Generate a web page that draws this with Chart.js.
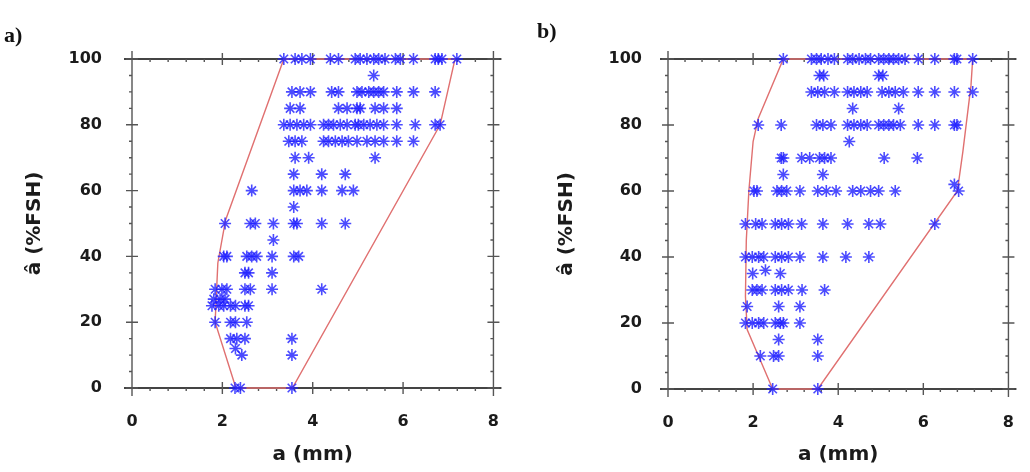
<!DOCTYPE html>
<html>
<head>
<meta charset="utf-8">
<script src="https://cdn.jsdelivr.net/npm/chart.js@4.4.0/dist/chart.umd.min.js"></script>
<style>
  html, body { margin: 0; padding: 0; background: #fff; }
  #wrap { position: relative; width: 1030px; height: 472px; overflow: hidden; }
  canvas { position: absolute; top: 0; }
  #cA { left: 0; }
  #cB { left: 515px; }
  .tag { position: absolute; font: bold 22px "Liberation Serif", serif; color: #111; line-height: 1; }
</style>
</head>
<body>
<div id="wrap">
  <canvas id="cA" width="515" height="472"></canvas>
  <canvas id="cB" width="515" height="472"></canvas>
  <div class="tag" style="left:4px;top:24px">a)</div>
  <div class="tag" style="left:537px;top:20px">b)</div>
</div>
<script>
// rows of points, grouped by amplitude (%FSH); x = crack depth in mm
const A_Y = [100, 95, 90, 85, 80, 75, 70, 65, 60, 55, 50, 45, 40, 35, 30, 27, 25, 20, 15, 12, 10, 0];
const A_X = [
  [3.36, 3.61, 3.76, 3.95, 4.39, 4.57, 4.94, 5.05, 5.2, 5.35, 5.46, 5.6, 5.83, 5.94, 6.23, 6.71, 6.78, 6.86, 7.19],
  [5.35],
  [3.54, 3.72, 3.95, 4.42, 4.57, 4.98, 5.09, 5.24, 5.35, 5.46, 5.57, 5.86, 6.23, 6.71],
  [3.5, 3.72, 4.57, 4.76, 4.98, 5.05, 5.38, 5.57, 5.86],
  [3.36, 3.5, 3.65, 3.8, 3.95, 4.24, 4.35, 4.46, 4.61, 4.76, 4.94, 5.01, 5.13, 5.27, 5.42, 5.57, 5.86, 6.27, 6.71, 6.82],
  [3.47, 3.61, 3.76, 4.24, 4.35, 4.5, 4.65, 4.79, 4.98, 5.2, 5.38, 5.57, 5.86, 6.23],
  [3.61, 3.91, 5.38],
  [3.58, 4.2, 4.72],
  [2.65, 3.58, 3.72, 3.87, 4.2, 4.65, 4.9],
  [3.58],
  [2.06, 2.62, 2.73, 3.13, 3.58, 3.65, 4.2, 4.72],
  [3.13],
  [2.03, 2.1, 2.54, 2.65, 2.76, 3.1, 3.58, 3.69],
  [2.5, 2.58, 3.1],
  [1.84, 1.99, 2.1, 2.5, 2.62, 3.1, 4.2],
  [1.81, 1.95, 2.06],
  [1.77, 1.92, 2.03, 2.18, 2.29, 2.5, 2.58],
  [1.84, 2.18, 2.29, 2.54],
  [2.18, 2.32, 2.5, 3.54],
  [2.29],
  [2.43, 3.54],
  [2.28, 2.4, 3.54]
];
const A_HULL_X = [2.3, 3.55, 6.82, 7.15, 3.36, 2.07, 1.9, 1.84, 2.3];
const A_HULL_Y = [0, 0, 80, 100, 100, 51, 38, 20, 0];

const B_Y = [100, 95, 90, 85, 80, 75, 70, 65, 62, 60, 50, 40, 36, 35, 30, 25, 20, 15, 10, 0];
const B_X = [
  [2.71, 3.37, 3.49, 3.6, 3.76, 3.91, 4.22, 4.34, 4.49, 4.64, 4.76, 4.95, 5.07, 5.19, 5.3, 5.42, 5.57, 5.88, 6.27, 6.73, 6.79, 7.16],
  [3.56, 3.66, 4.95, 5.05],
  [3.37, 3.52, 3.68, 3.91, 4.22, 4.37, 4.53, 4.68, 5.03, 5.19, 5.34, 5.53, 5.88, 6.27, 6.73, 7.16],
  [4.34, 5.42],
  [2.12, 2.66, 3.49, 3.64, 3.83, 4.22, 4.37, 4.53, 4.68, 4.95, 5.07, 5.19, 5.3, 5.46, 5.88, 6.27, 6.73, 6.79],
  [4.26],
  [2.66, 2.71, 3.14, 3.33, 3.56, 3.68, 3.83, 5.08, 5.86],
  [2.71, 3.64],
  [6.73],
  [2.02, 2.09, 2.56, 2.67, 2.79, 3.1, 3.52, 3.72, 3.95, 4.34, 4.53, 4.76, 4.95, 5.34, 6.83],
  [1.82, 2.06, 2.21, 2.52, 2.67, 2.83, 3.14, 3.64, 4.22, 4.72, 4.99, 6.27],
  [1.82, 1.98, 2.13, 2.25, 2.52, 2.67, 2.83, 3.1, 3.64, 4.18, 4.72],
  [2.29],
  [1.99, 2.64],
  [1.98, 2.09, 2.21, 2.52, 2.67, 2.83, 3.15, 3.68],
  [1.86, 2.6, 3.1],
  [1.82, 1.98, 2.13, 2.25, 2.52, 2.64, 2.71, 3.1],
  [2.6, 3.52],
  [2.17, 2.48, 2.6, 3.52],
  [2.46, 3.52]
];
const B_HULL_X = [2.46, 3.52, 6.8, 6.93, 7.12, 7.16, 2.71, 2.12, 2.0, 1.9, 1.84, 1.82, 1.86, 2.46];
const B_HULL_Y = [0, 0, 60, 72, 92, 100, 100, 82, 75, 60, 45, 28, 18, 0];

const X_TITLE = "a (mm)";
const Y_TITLE = "â (%FSH)";

const TXT = "#1b1b1b";
const FONT = '"DejaVu Sans", sans-serif';

function rowsToPoints(ys, xs) {
  const pts = [];
  ys.forEach((yv, i) => xs[i].forEach(xv => pts.push({ x: xv, y: yv })));
  return pts;
}

function hullPoints(hx, hy) { return hx.map((v, i) => ({ x: v, y: hy[i] })); }

// box with crossing major ticks and small minor ticks on all four sides
const framePlugin = {
  id: "frame",
  beforeDatasetsDraw(chart) {
    const { ctx, chartArea: a, scales: { x, y } } = chart;
    ctx.save();
    ctx.strokeStyle = "#444";
    ctx.lineWidth = 2.2;
    ctx.beginPath();
    ctx.moveTo(a.left - 8, a.top); ctx.lineTo(a.right + 8, a.top);
    ctx.moveTo(a.left - 8, a.bottom); ctx.lineTo(a.right + 8, a.bottom);
    ctx.stroke();
    ctx.lineWidth = 1.4;
    ctx.strokeStyle = "#555";
    ctx.beginPath();
    ctx.moveTo(a.left, a.top - 8); ctx.lineTo(a.left, a.bottom + 8);
    ctx.moveTo(a.right, a.top - 8); ctx.lineTo(a.right, a.bottom + 8);
    for (let i = 0; i <= 20; i++) {
      const px = x.getPixelForValue(i * 0.4);
      const major = i % 5 === 0;
      ctx.moveTo(px, a.bottom - (major ? 6 : 0)); ctx.lineTo(px, a.bottom + (major ? 6 : 3));
      ctx.moveTo(px, a.top - (major ? 6 : 0)); ctx.lineTo(px, a.top + (major ? 6 : 3));
    }
    for (let i = 0; i <= 20; i++) {
      const py = y.getPixelForValue(i * 5);
      const major = i % 4 === 0;
      ctx.moveTo(a.left - (major ? 6 : 3), py); ctx.lineTo(a.left + (major ? 6 : 0), py);
      ctx.moveTo(a.right - (major ? 6 : 3), py); ctx.lineTo(a.right + (major ? 6 : 0), py);
    }
    ctx.stroke();
    ctx.restore();
  }
};

function makeChart(id, ys, xs, hx, hy, geo) {
  return new Chart(document.getElementById(id), {
    type: "scatter",
    data: {
      datasets: [
        {
          data: rowsToPoints(ys, xs),
          pointStyle: "star",
          pointRadius: 6,
          pointBorderWidth: 1.6,
          borderColor: "rgba(30,30,255,0.8)",
          backgroundColor: "rgba(30,30,255,0.8)",
          clip: false
        },
        {
          data: hullPoints(hx, hy),
          showLine: true,
          pointRadius: 0,
          borderColor: "#e07070",
          borderWidth: 1.4,
          tension: 0,
          fill: false,
          clip: false
        }
      ]
    },
    options: {
      responsive: false,
      animation: false,
      devicePixelRatio: 1,
      events: [],
      layout: { padding: { left: 0, right: geo.padRight, top: 59, bottom: 0 } },
      plugins: { legend: { display: false }, tooltip: { enabled: false } },
      scales: {
        x: {
          type: "linear", min: 0, max: 8,
          grid: { display: false }, border: { display: false },
          ticks: { stepSize: 2, padding: 16, color: TXT, font: { family: FONT, weight: "bold", size: 16 } },
          title: { display: true, text: X_TITLE, color: TXT, font: { family: FONT, weight: "bold", size: 20 }, padding: { top: 0, bottom: 5 } },
          afterFit: s => { s.height = geo.xHeight; }
        },
        y: {
          type: "linear", min: 0, max: 100,
          grid: { display: false }, border: { display: false },
          ticks: { stepSize: 20, padding: geo.yTickPad, color: TXT, font: { family: FONT, weight: "bold", size: 16 } },
          title: { display: true, text: Y_TITLE, color: TXT, font: { family: FONT, weight: "bold", size: 20 }, padding: { top: geo.yTitlePad, bottom: 0 } },
          afterFit: s => { s.width = geo.yWidth; }
        }
      }
    },
    plugins: [framePlugin]
  });
}

makeChart("cA", A_Y, A_X, A_HULL_X, A_HULL_Y, { yWidth: 132, xHeight: 84, padRight: 21, yTickPad: 22, yTitlePad: 23 });
makeChart("cB", B_Y, B_X, B_HULL_X, B_HULL_Y, { yWidth: 153, xHeight: 83, padRight: 17, yTickPad: 18, yTitlePad: 40 });
</script>
</body>
</html>
